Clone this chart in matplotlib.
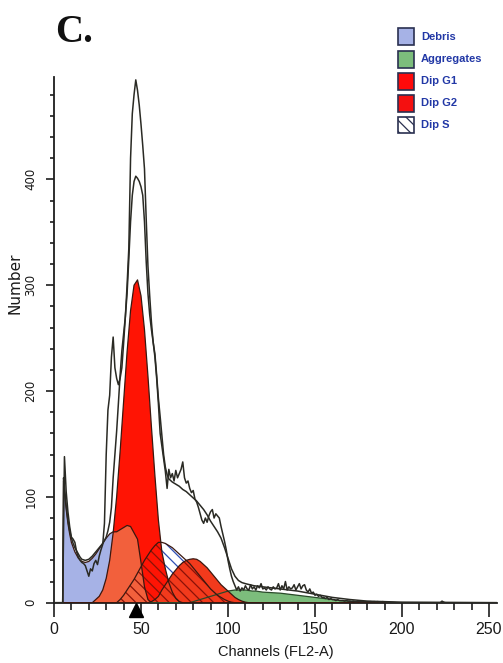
import numpy as np
import matplotlib
matplotlib.use('Agg')
import matplotlib.pyplot as plt
from matplotlib.patches import Rectangle
from matplotlib.ticker import MultipleLocator, FixedLocator

# ---------------- data ----------------
comp_ch = [0, 4, 5, 5.5, 6, 7, 8, 9] + list(range(10, 121, 2)) + list(range(125, 201, 5))
N = len(comp_ch)


def pad(lead, vals):
    return [0] * lead + vals + [0] * (N - lead - len(vals))


debris = pad(0, [0, 0, 0, 115, 105, 88, 75, 65,
                 57, 48, 42, 39, 38, 39, 42, 46, 51, 56,
                 61, 65, 67, 67, 69, 71, 73, 72, 66, 60,
                 38, 15, 3])
dip_g1 = pad(15, [3, 6, 12, 23, 40, 66, 100, 143, 190, 237, 276, 300, 305,
                  290, 258, 214, 166, 120, 78, 48, 32, 19, 10, 4, 1])
dip_g2 = pad(31, [1, 3, 6, 12, 17, 22, 27, 31, 35, 38,
                  40, 41, 41.5, 41, 39, 36, 33, 29, 25, 21,
                  17, 14, 11, 8, 5, 3, 1.5, 0.5])
dip_s = pad(22, [3, 7, 12, 17, 22, 28, 34, 40, 45, 50,
                 54, 57, 57, 56, 54, 52, 49, 46, 43, 40,
                 37, 33, 29, 25, 21, 17, 13, 10, 7, 5,
                 3, 1.5, 0.5])
aggregates = pad(43, [1, 2, 3, 4, 5, 6, 7, 8, 9, 10,
                      11, 11.5, 12, 12, 12, 12, 11.5, 11, 11, 10.5, 10,
                      9.5, 9, 8, 7, 6, 5, 4, 3, 2, 1.5, 1, 0.6, 0.3])

raw_counts = [
    0, 0, 0, 0, 0, 0, 138, 105, 86, 72,
    62, 60, 57, 48, 43, 40, 38, 37, 35, 30,
    25, 32, 30, 37, 40, 36, 44, 50, 55, 75,
    140, 182, 196, 232, 251, 222, 212, 206, 212, 222,
    245, 270, 300, 335, 420, 462, 480, 494, 484, 470,
    452, 432, 410, 362, 318, 290, 265, 246, 232, 212,
    188, 160, 148, 136, 124, 108, 126, 118, 122, 115,
    125, 118, 122, 126, 133, 118, 113, 115, 108, 104,
    106, 98, 95, 90, 84, 78, 75, 80, 76, 82,
    86, 88, 80, 84, 82, 80, 72, 65, 58, 50,
    40, 32, 25, 20, 16, 12, 15, 11, 14, 12,
    16, 13, 12, 17, 13, 15, 12, 16, 14, 18,
    13, 14, 12, 15, 13, 12, 15, 13, 14, 18,
    12, 16, 13, 20, 12, 15, 13, 14, 17, 12,
    15, 18, 13, 16, 17, 12, 10, 13, 9, 10,
    7, 8, 6, 7, 5, 5, 4, 5, 3, 4,
    3, 3, 2, 3, 2, 2, 2, 1.5, 2, 1.5,
    1.5, 1, 1.5, 1, 1, 1.5, 1, 1, 1, 1,
    1, 1, 1, 0.8, 1, 0.8, 1, 0.8, 0.8, 1,
    0.8, 0.8, 0.5, 0.3, 0.2, 0, 0, 0, 0, 0,
    0, 0, 0, 0, 0, 0, 0, 0, 0, 0,
    0, 0, 0, 0, 0, 0, 0, 0, 0, 0,
    0, 0, 0, 1.5, 0.5, 0, 0, 0, 0, 0,
    0, 0, 0, 0, 0, 0, 0, 0, 0, 0,
    0, 0, 0, 0, 0, 0, 0, 0, 0, 0,
    0, 0, 0, 0, 0, 0,
]
raw_ch = list(range(len(raw_counts)))

model_ch = [0, 5, 5.5, 6, 7, 8, 9, 10, 11, 12, 13, 14, 15, 16, 18, 20, 22, 24, 26, 28,
            30, 31, 32, 33, 34, 35, 36, 37, 38, 39, 40, 41, 42, 43, 44, 45, 46, 47, 48, 49,
            50, 51, 52, 53, 54, 55, 56, 57, 58, 59, 60, 61, 62, 63, 64, 65, 66, 68, 70, 72,
            74, 76, 78, 80, 82, 84, 86, 88, 90, 92, 94, 96, 98, 100, 102, 104, 106, 108, 110, 115,
            120, 130, 140, 150, 160, 170, 180, 190, 200, 255]
model_counts = [0, 0, 118, 110, 92, 78, 68, 61, 56, 52, 49, 46, 43, 41, 40, 41, 44, 48, 52, 56,
                62, 68, 76, 90, 118, 140, 162, 188, 215, 238, 254, 270, 292, 325, 360, 385, 398, 403, 401, 398,
                393, 385, 360, 322, 292, 272, 258, 246, 235, 215, 193, 176, 158, 140, 128, 121, 117, 114, 112, 110,
                107, 105, 102, 99, 96, 92, 88, 83, 77, 72, 67, 61, 52, 42, 32, 25, 21, 19, 18, 16,
                15, 13, 11, 8, 5, 3, 1.5, 1, 0.5, 0]

g1_peak_channel = 47
x_major = [0, 50, 100, 150, 200, 250]
y_major = [0, 100, 200, 300, 400]
legend_labels = ['Debris', 'Aggregates', 'Dip G1', 'Dip G2', 'Dip S']

# ---------------- style ----------------
C_DEBRIS = '#a6b2e6'
C_AGG = '#7cbd7c'
C_G1 = '#ff1404'
C_G2 = '#f23a1c'
C_MIX = '#f2603c'
C_LINE = '#2a2a24'
C_OUT = '#3a1810'
C_HATCH_BLUE = '#2f4fb4'
C_HATCH_RED = '#8a1208'
C_LEG_TXT = '#2238a6'
SANS = ['Liberation Sans', 'DejaVu Sans']

plt.rcParams['hatch.linewidth'] = 0.9

W, H = 503, 663
fig = plt.figure(figsize=(W / 100, H / 100), dpi=100)
ax = fig.add_axes([54 / W, 1 - 602.7 / H, 443 / W, 526 / H])

x = np.array(comp_ch, dtype=float)
deb = np.array(debris, dtype=float)
g1 = np.array(dip_g1, dtype=float)
g2 = np.array(dip_g2, dtype=float)
s = np.array(dip_s, dtype=float)
agg = np.array(aggregates, dtype=float)

ax.fill_between(x, 0, deb, facecolor=C_DEBRIS, lw=0, zorder=1)
ax.fill_between(x, 0, agg, facecolor=C_AGG, lw=0, zorder=1)
ax.fill_between(x, 0, s, facecolor='white', edgecolor=C_HATCH_BLUE, hatch='\\\\\\', lw=0, zorder=2)
ax.fill_between(x, 0, g1, facecolor=C_G1, lw=0, zorder=3)
ax.fill_between(x, 0, g2, facecolor=C_G2, lw=0, zorder=3.1)
ax.fill_between(x, 0, np.minimum(deb, g1), facecolor=C_MIX, lw=0, zorder=3.2)
ax.fill_between(x, 0, np.minimum(s, np.maximum(g1, g2)), facecolor='none',
                edgecolor=C_HATCH_RED, hatch='\\\\\\', lw=0, zorder=3.3)

for arr, col in [(deb, C_OUT), (agg, '#2a4a2a'), (s, C_OUT), (g1, C_OUT), (g2, C_OUT)]:
    ax.plot(x, arr, color=col, lw=0.9, zorder=4)

ax.plot(model_ch, model_counts, color=C_LINE, lw=1.1, zorder=5)
ax.plot(raw_ch, raw_counts, color=C_LINE, lw=1.1, zorder=5)

ax.set_xlim(0, 254.6)
ax.set_ylim(0, 497)

for sp in ['top', 'right']:
    ax.spines[sp].set_visible(False)
for sp in ['left', 'bottom']:
    ax.spines[sp].set_linewidth(1.3)
    ax.spines[sp].set_color('#1e1e1e')

ax.xaxis.set_major_locator(FixedLocator(x_major))
ax.xaxis.set_minor_locator(MultipleLocator(10))
ax.yaxis.set_major_locator(FixedLocator(y_major))
ax.yaxis.set_minor_locator(FixedLocator(list(range(0, 481, 20))))

ax.tick_params(axis='x', which='major', length=10, width=1.2, color='#1e1e1e', pad=4,
               labelsize=11.5, labelcolor='#1a1a1a')
ax.tick_params(axis='x', which='minor', length=5, width=1.2, color='#1e1e1e')
ax.tick_params(axis='y', which='major', length=6, width=1.2, color='#1e1e1e', pad=6,
               labelsize=8.5, labelcolor='#1a1a1a', labelrotation=90)
ax.tick_params(axis='y', which='minor', length=3, width=1.2, color='#1e1e1e')
for lab in ax.get_xticklabels():
    lab.set_family(SANS)
for lab in ax.get_yticklabels():
    lab.set_verticalalignment('center')

# G1 peak marker below the axis
ax.plot([g1_peak_channel], [-0.0148], marker='^', ms=10, color='black',
        transform=ax.get_xaxis_transform(), clip_on=False, zorder=10)

# labels
fig.text(276 / W, 1 - 652 / H, 'Channels (FL2-A)', ha='center', va='center',
         fontsize=10.5, family=SANS, color='#1a1a1a')
fig.text(15 / W, 1 - 283 / H, 'Number', ha='center', va='center', rotation=90,
         fontsize=11, family='DejaVu Sans', color='#1a1a1a')
fig.text(55 / W, 1 - 42 / H, 'C.', ha='left', va='baseline', fontsize=28,
         family='Liberation Serif', fontweight='bold', color='#111111')

# legend
leg_faces = [C_DEBRIS, C_AGG, '#ff0a0a', '#f41010', 'white']
leg_y = [36.5, 59.5, 81.5, 103.5, 125]
for lab, fc, yc in zip(legend_labels, leg_faces, leg_y):
    hatch = '\\\\\\' if fc == 'white' else None
    r = Rectangle((398 / W, 1 - (yc + 8) / H), 16 / W, 16 / H, transform=fig.transFigure,
                  facecolor=fc, edgecolor='#2a3050', lw=1.2, hatch=hatch, zorder=20)
    fig.add_artist(r)
    fig.text(421 / W, 1 - yc / H, lab, ha='left', va='center', fontsize=8,
             family=SANS, fontweight='bold', color=C_LEG_TXT)

fig.savefig('out.png', dpi=100, facecolor='white')
